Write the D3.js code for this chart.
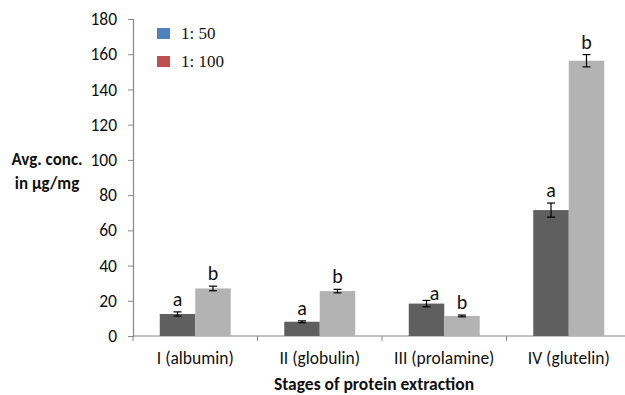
<!DOCTYPE html>
<html>
<head>
<meta charset="utf-8">
<script src="https://cdn.jsdelivr.net/npm/d3@7"></script>
<style>
  body { margin: 0; background: #fff; }
  svg { display: block; }
</style>
</head>
<body>
<div id="chart"></div>
<script>
// data
let categories = ['I (albumin)', 'II (globulin)', 'III (prolamine)', 'IV (glutelin)'];
let seriesNames = ['1: 50', '1: 100'];
let values50 = [12.5, 8.1, 18.4, 71.5];
let values100 = [27.0, 25.5, 11.4, 156.3];
let err50 = [1.2, 0.5, 1.8, 4.0];
let err100 = [1.3, 1.0, 0.5, 3.5];
let letters50 = ['a', 'a', 'a', 'a'];
let letters100 = ['b', 'b', 'b', 'b'];
let yTicks = [0, 20, 40, 60, 80, 100, 120, 140, 160, 180];

let width = 625, height = 395;
let svg = d3.select('#chart').append('svg').attr('width', width).attr('height', height);

let barColors = ['#5f5f5f', '#b3b3b3'];
let legendColors = ['#4f81bd', '#c0504d'];
let axisColor = '#888888';
let font = 'Carlito, "Open Sans", "Liberation Sans", sans-serif';

// scales
let y = d3.scaleLinear().domain([0, 180]).range([336, 19]);
let x = d3.scaleBand().domain(categories).range([133, 631]).paddingInner(0.43).paddingOuter(0.215);
let xs = d3.scaleBand().domain([0, 1]).range([0, x.bandwidth()]);

// y axis
let yAxis = svg.append('g').attr('transform', 'translate(133,0)')
    .call(d3.axisLeft(y).tickValues(yTicks).tickSize(5).tickPadding(11));
yAxis.select('.domain').attr('stroke', axisColor).attr('stroke-width', 1.2);
yAxis.selectAll('.tick line').attr('stroke', axisColor);
yAxis.selectAll('.tick text').attr('font-family', font).attr('font-size', 17.5).attr('fill', '#111');

// x axis: line to the right edge, ticks between categories
let step = x.step();
svg.append('line').attr('x1', 133).attr('x2', width).attr('y1', y(0)).attr('y2', y(0))
    .attr('stroke', axisColor).attr('stroke-width', 1.2);
categories.forEach(function (c) {
    let tx = x(c) - step * 0.43 / 2;
    svg.append('line').attr('x1', tx).attr('x2', tx).attr('y1', y(0)).attr('y2', y(0) + 5)
        .attr('stroke', axisColor);
    svg.append('text').attr('x', x(c) + x.bandwidth() / 2).attr('y', 364)
        .attr('text-anchor', 'middle').attr('font-family', font).attr('font-size', 17.5)
        .attr('fill', '#111').text(c);
});

// bars
let series = [
    {vals: values50, errs: err50, letters: letters50},
    {vals: values100, errs: err100, letters: letters100}
];
series.forEach(function (s, si) {
    let g = svg.append('g');
    categories.forEach(function (c, i) {
        let bx = x(c) + xs(si);
        let bw = xs.bandwidth();
        let v = s.vals[i], e = s.errs[i];
        g.append('rect').attr('x', bx).attr('y', y(v)).attr('width', bw).attr('height', y(0) - y(v))
            .attr('fill', barColors[si]);
        let cx = bx + bw / 2;
        g.append('line').attr('x1', cx).attr('x2', cx).attr('y1', y(v + e)).attr('y2', y(v - e))
            .attr('stroke', '#000').attr('stroke-width', 1.2);
        [v + e, v - e].forEach(function (ev) {
            g.append('line').attr('x1', cx - 4).attr('x2', cx + 4).attr('y1', y(ev)).attr('y2', y(ev))
                .attr('stroke', '#000').attr('stroke-width', 1.2);
        });
        // the "a" of stage III sits beside its error bar
        let shifted = (i === 2 && si === 0);
        g.append('text').attr('x', cx + (shifted ? 8 : 0)).attr('y', y(v + e) - (shifted ? 0 : 6))
            .attr('text-anchor', 'middle').attr('font-family', font).attr('font-size', 20)
            .attr('fill', '#111').text(s.letters[i]);
    });
});

// legend
seriesNames.forEach(function (n, i) {
    let ly = 28 + i * 28;
    svg.append('rect').attr('x', 157).attr('y', ly).attr('width', 13).attr('height', 11)
        .attr('fill', legendColors[i]);
    svg.append('text').attr('x', 181).attr('y', ly + 11).attr('font-family', '"Liberation Serif", "Times New Roman", serif')
        .attr('font-size', 17).attr('fill', '#111').text(n);
});

// axis titles
svg.append('text').attr('x', 47).attr('y', 165).attr('text-anchor', 'middle').attr('font-family', font)
    .attr('font-size', 17).attr('font-weight', 'bold').attr('fill', '#111').text('Avg. conc.');
svg.append('text').attr('x', 47).attr('y', 189).attr('text-anchor', 'middle').attr('font-family', font)
    .attr('font-size', 17).attr('font-weight', 'bold').attr('fill', '#111').text('in µg/mg');

svg.append('text').attr('x', 374).attr('y', 390).attr('text-anchor', 'middle')
    .attr('font-family', font).attr('font-size', 17.5).attr('font-weight', 'bold').attr('fill', '#111')
    .text('Stages of protein extraction');
</script>
</body>
</html>
